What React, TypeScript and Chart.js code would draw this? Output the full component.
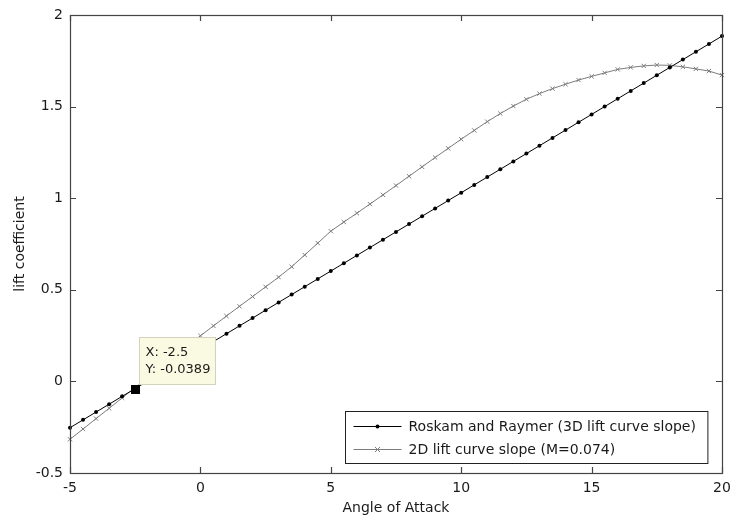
import React, { useEffect, useRef } from "react";
import { Chart, registerables } from "chart.js";

Chart.register(...registerables);

const angles = [
  -5, -4.5, -4, -3.5, -3, -2.5, -2, -1.5, -1, -0.5, 0, 0.5, 1, 1.5, 2, 2.5, 3,
  3.5, 4, 4.5, 5, 5.5, 6, 6.5, 7, 7.5, 8, 8.5, 9, 9.5, 10, 10.5, 11, 11.5, 12,
  12.5, 13, 13.5, 14, 14.5, 15, 15.5, 16, 16.5, 17, 17.5, 18, 18.5, 19, 19.5, 20,
];

const roskamRaymer = [
  -0.2527, -0.21, -0.1672, -0.1245, -0.0817, -0.0389, 0.0038, 0.0466, 0.0893,
  0.1321, 0.1748, 0.2176, 0.2603, 0.3031, 0.3458, 0.3886, 0.4313, 0.4741,
  0.5168, 0.5596, 0.6023, 0.6451, 0.6878, 0.7306, 0.7733, 0.8161, 0.8588,
  0.9016, 0.9443, 0.9871, 1.0298, 1.0726, 1.1153, 1.1581, 1.2008, 1.2436,
  1.2863, 1.3291, 1.3718, 1.4146, 1.4573, 1.5001, 1.5428, 1.5856, 1.6283,
  1.6711, 1.7138, 1.7566, 1.7993, 1.8421, 1.8848,
];

const lift2D = [
  -0.316, -0.26, -0.203, -0.147, -0.09, -0.034, 0.023, 0.079, 0.136, 0.192,
  0.249, 0.303, 0.357, 0.41, 0.463, 0.516, 0.569, 0.626, 0.69, 0.755, 0.82,
  0.87, 0.918, 0.968, 1.018, 1.069, 1.12, 1.171, 1.222, 1.272, 1.322, 1.37,
  1.418, 1.462, 1.503, 1.54, 1.571, 1.598, 1.622, 1.645, 1.665, 1.684, 1.703,
  1.714, 1.722, 1.727, 1.725, 1.717, 1.706, 1.694, 1.672,
];

const seriesLabels = [
  "Roskam and Raymer (3D lift curve slope)",
  "2D lift curve slope (M=0.074)",
];

const xTitle = "Angle of Attack";
const yTitle = "lift coefficient";

const xRange = [-5, 20];
const yRange = [-0.5, 2];
const xStep = 5;
const yStep = 0.5;

const datatipX = -2.5;
const datatipY = -0.0389;

const FONT = '"DejaVu Sans", sans-serif';
const TEXT_COLOR = "#1a1a1a";
const COLOR_3D = "#000000";
const COLOR_2D = "#7c7c7c";

function fmtTick(v: number) {
  return String(Number(v.toFixed(3)));
}

function drawMarker(ctx: CanvasRenderingContext2D, style: string, x: number, y: number, r: number, color: string) {
  ctx.save();
  ctx.strokeStyle = color;
  ctx.fillStyle = color;
  ctx.lineWidth = 1;
  if (style === "circle") {
    ctx.beginPath();
    ctx.arc(x, y, r, 0, Math.PI * 2);
    ctx.fill();
  } else {
    ctx.beginPath();
    ctx.moveTo(x - r, y - r);
    ctx.lineTo(x + r, y + r);
    ctx.moveTo(x - r, y + r);
    ctx.lineTo(x + r, y - r);
    ctx.stroke();
  }
  ctx.restore();
}

const matlabPlugin = {
  id: "matlabDecor",
  afterDatasetsDraw(chart: any) {
    const { ctx, chartArea } = chart;
    const xs = chart.scales.x;
    const ys = chart.scales.y;
    const { left, right, top, bottom } = chartArea;

    // Axes box
    ctx.save();
    ctx.strokeStyle = "#444";
    ctx.lineWidth = 1.2;
    ctx.strokeRect(left + 0.5, top + 0.5, right - left, bottom - top);

    // Inward ticks
    const tl = 6;
    ctx.beginPath();
    xs.ticks.forEach((t: any) => {
      const px = Math.round(xs.getPixelForValue(t.value)) + 0.5;
      ctx.moveTo(px, bottom);
      ctx.lineTo(px, bottom - tl);
      ctx.moveTo(px, top);
      ctx.lineTo(px, top + tl);
    });
    ys.ticks.forEach((t: any) => {
      const py = Math.round(ys.getPixelForValue(t.value)) + 0.5;
      ctx.moveTo(left, py);
      ctx.lineTo(left + tl, py);
      ctx.moveTo(right, py);
      ctx.lineTo(right - tl, py);
    });
    ctx.stroke();
    ctx.restore();

    // Legend box inside plot (south-east)
    ctx.save();
    ctx.font = `14px ${FONT}`;
    const textW = Math.max(...seriesLabels.map((s) => ctx.measureText(s).width));
    const boxW = 63 + textW + 12;
    const boxH = 52;
    const bx = Math.round(right - 15 - boxW) + 0.5;
    const by = Math.round(bottom - 10 - boxH) + 0.5;
    ctx.fillStyle = "#ffffff";
    ctx.fillRect(bx, by, boxW, boxH);
    ctx.strokeStyle = "#222";
    ctx.lineWidth = 1;
    ctx.strokeRect(bx, by, boxW, boxH);
    const rows = [by + 15, by + 38];
    const colors = [COLOR_3D, COLOR_2D];
    const styles = ["circle", "cross"];
    rows.forEach((ry, i) => {
      ctx.strokeStyle = colors[i];
      ctx.lineWidth = 1;
      ctx.beginPath();
      ctx.moveTo(bx + 8, ry);
      ctx.lineTo(bx + 56, ry);
      ctx.stroke();
      drawMarker(ctx, styles[i], bx + 32, ry, i === 0 ? 2 : 2.5, colors[i]);
      ctx.fillStyle = TEXT_COLOR;
      ctx.textBaseline = "middle";
      ctx.textAlign = "left";
      ctx.fillText(seriesLabels[i], bx + 63, ry + 1);
    });
    ctx.restore();
  },
  afterDraw(chart: any) {
    const { ctx } = chart;
    const xs = chart.scales.x;
    const ys = chart.scales.y;
    const px = xs.getPixelForValue(datatipX);
    const py = ys.getPixelForValue(datatipY);
    ctx.save();
    // Datatip box
    const bx = Math.round(px + 4) + 0.5;
    const by = Math.round(py - 52) + 0.5;
    ctx.fillStyle = "#fafae3";
    ctx.fillRect(bx, by, 76, 47);
    ctx.strokeStyle = "#d3d3bd";
    ctx.lineWidth = 1;
    ctx.strokeRect(bx, by, 76, 47);
    ctx.fillStyle = TEXT_COLOR;
    ctx.font = `13px ${FONT}`;
    ctx.textBaseline = "middle";
    ctx.textAlign = "left";
    ctx.fillText(`X: ${datatipX}`, bx + 6, by + 15);
    ctx.fillText(`Y: ${datatipY}`, bx + 6, by + 32);
    // Black square marker
    ctx.fillStyle = "#000";
    ctx.fillRect(Math.round(px) - 4, Math.round(py) - 4, 9, 9);
    ctx.restore();
  },
};

export default function App() {
  const canvasRef = useRef<HTMLCanvasElement | null>(null);

  useEffect(() => {
    const canvas = canvasRef.current;
    if (!canvas) return;
    const chart = new Chart(canvas, {
      type: "line",
      data: {
        datasets: [
          {
            label: seriesLabels[0],
            data: angles.map((a, i) => ({ x: a, y: roskamRaymer[i] })),
            borderColor: COLOR_3D,
            backgroundColor: COLOR_3D,
            borderWidth: 1,
            pointStyle: "circle",
            pointRadius: 2,
            pointBorderWidth: 0,
            pointBackgroundColor: COLOR_3D,
            tension: 0,
            clip: false as any,
          },
          {
            label: seriesLabels[1],
            data: angles.map((a, i) => ({ x: a, y: lift2D[i] })),
            borderColor: COLOR_2D,
            backgroundColor: COLOR_2D,
            borderWidth: 1,
            pointStyle: "crossRot",
            pointRadius: 3,
            pointBorderWidth: 1,
            pointBorderColor: COLOR_2D,
            tension: 0,
            clip: false as any,
          },
        ],
      },
      options: {
        responsive: false,
        animation: false,
        events: [],
        layout: { padding: { top: 15, right: 0, left: 0, bottom: 0 } },
        plugins: {
          legend: { display: false },
          tooltip: { enabled: false },
        },
        scales: {
          x: {
            type: "linear",
            min: xRange[0],
            max: xRange[1],
            ticks: {
              stepSize: xStep,
              padding: 7,
              color: TEXT_COLOR,
              font: { family: FONT, size: 14 },
              maxRotation: 0,
              callback: (v: any) => fmtTick(Number(v)),
            },
            grid: { display: false, drawTicks: false },
            border: { display: false },
            title: {
              display: true,
              text: xTitle,
              color: TEXT_COLOR,
              font: { family: FONT, size: 14 },
              padding: { top: 0, bottom: 6 },
            },
            afterFit(scale: any) {
              scale.height = 50;
              scale.paddingLeft = 0;
              scale.paddingRight = 8;
            },
          },
          y: {
            type: "linear",
            min: yRange[0],
            max: yRange[1],
            ticks: {
              stepSize: yStep,
              padding: 7,
              color: TEXT_COLOR,
              font: { family: FONT, size: 14 },
              callback: (v: any) => fmtTick(Number(v)),
            },
            grid: { display: false, drawTicks: false },
            border: { display: false },
            title: {
              display: true,
              text: yTitle,
              color: TEXT_COLOR,
              font: { family: FONT, size: 14 },
              padding: { top: 12, bottom: 0 },
            },
            afterFit(scale: any) {
              scale.width = 70;
              scale.paddingTop = 0;
              scale.paddingBottom = 0;
            },
          },
        },
      },
      plugins: [matlabPlugin],
    });
    return () => chart.destroy();
  }, []);

  return (
    <div style={{ position: "fixed", left: 0, top: 0, width: 730, height: 523, background: "#fff" }}>
      <canvas ref={canvasRef} width={730} height={523} style={{ display: "block" }} />
    </div>
  );
}
